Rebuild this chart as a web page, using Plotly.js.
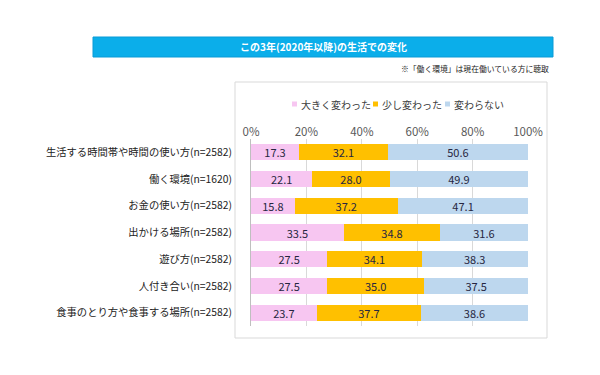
<!DOCTYPE html>
<html><head><meta charset="utf-8">
<script src="https://cdn.plot.ly/plotly-3.0.1.min.js"></script>
<style>html,body{margin:0;padding:0;background:#fff;overflow:hidden}#c{width:600px;height:375px}</style>
</head><body><div id="c"></div>
<script>
const categories = ["生活する時間帯や時間の使い方(n=2582)","働く環境(n=1620)","お金の使い方(n=2582)","出かける場所(n=2582)","遊び方(n=2582)","人付き合い(n=2582)","食事のとり方や食事する場所(n=2582)"];
const seriesNames = ["大きく変わった","少し変わった","変わらない"];
const bigChange = [17.3,22.1,15.8,33.5,27.5,27.5,23.7];
const smallChange = [32.1,28.0,37.2,34.8,34.1,35.0,37.7];
const noChange = [50.6,49.9,47.1,31.6,38.3,37.5,38.6];
const tickVals = [0,20,40,60,80,100];
const tickText = ["0%","20%","40%","60%","80%","100%"];
const colors = ["#F7C6F1","#FFC000","#BDD7EE"];
const FONT = "'Noto Sans CJK JP', 'Noto Sans', sans-serif";
const W=600,H=375;
const px = v => v/W, py = v => 1 - v/H;

const data = [bigChange, smallChange, noChange].map((vals,i)=>({
  type:'bar', orientation:'h', name:seriesNames[i], x:vals, y:categories,
  marker:{color:colors[i], line:{width:0}},
  texttemplate:'%{x:.1f}', textposition:'inside', insidetextanchor:'middle',
  textfont:{family:FONT,size:11,color:'#262640'}, hoverinfo:'skip', constraintext:'none',
  showlegend:false
}));

// custom legend (text + swatches) placed like the reference
const legendX = [299, 380, 452];
const legendShapes = seriesNames.map((n,i)=>({type:'rect', xref:'paper', yref:'paper',
  x0:px(legendX[i]-7), x1:px(legendX[i]-2), y0:py(101.5), y1:py(106.5), line:{width:0}, fillcolor:colors[i]}));
const legendAnn = seriesNames.map((n,i)=>({text:n, xref:'paper', yref:'paper', x:px(legendX[i]), y:py(104),
  showarrow:false, xanchor:'left', yanchor:'middle', font:{family:FONT,size:10,color:'#404040'}}));

const layout = {
  width:W, height:H, margin:{l:0,r:0,t:0,b:0}, paper_bgcolor:'#fff', plot_bgcolor:'rgba(0,0,0,0)',
  barmode:'stack', bargap:0.4, font:{family:FONT,color:'#222'}, showlegend:false,
  xaxis:{domain:[px(251),px(528)], range:[0,100], side:'top', tickvals:tickVals, ticktext:tickText,
    showgrid:true, gridcolor:'#D9D9D9', gridwidth:1, zeroline:false, showline:false,
    ticks:'', tickfont:{family:FONT,size:11.5,color:'#595959'}, automargin:false, fixedrange:true},
  yaxis:{domain:[py(326),py(139)], autorange:'reversed', showline:true, linecolor:'#BFBFBF', linewidth:1,
    ticks:'', ticklabelstandoff:16, tickfont:{family:FONT,size:10.3,color:'#222'}, automargin:false, fixedrange:true},
  shapes:[
    {type:'rect', xref:'paper', yref:'paper', x0:px(235), x1:px(547), y0:py(82), y1:py(338), line:{color:'#D9D9D9',width:1}, fillcolor:'rgba(0,0,0,0)', layer:'below'},
    {type:'rect', xref:'paper', yref:'paper', x0:px(93), x1:px(553), y0:py(37), y1:py(57), line:{color:'#0A9BD6',width:1}, fillcolor:'#0BAEEA', layer:'below'}
  ].concat(legendShapes),
  annotations:[
    {text:'<b>この3年(2020年以降)の生活での変化</b>', xref:'paper', yref:'paper', x:px(323), y:py(47), showarrow:false, xanchor:'center', yanchor:'middle', font:{family:FONT,size:10,color:'#fff'}},
    {text:'※「働く環境」は現在働いている方に聴取', xref:'paper', yref:'paper', x:px(551), y:py(68), showarrow:false, xanchor:'right', yanchor:'middle', font:{family:FONT,size:7.8,color:'#222'}}
  ].concat(legendAnn)
};
Plotly.newPlot('c', data, layout, {displayModeBar:false, staticPlot:true});
</script></body></html>
